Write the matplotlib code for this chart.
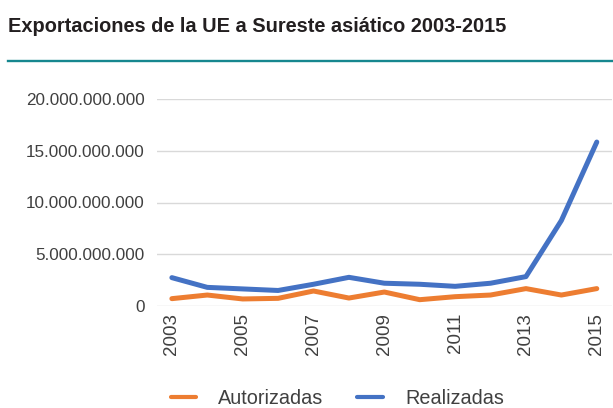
import matplotlib.pyplot as plt
from matplotlib import font_manager
from matplotlib.ticker import FuncFormatter
from matplotlib.lines import Line2D

# Datos (euros)
anios = [2003, 2004, 2005, 2006, 2007, 2008, 2009, 2010, 2011, 2012, 2013, 2014, 2015]
autorizadas = [0.71e9, 1.06e9, 0.68e9, 0.74e9, 1.45e9, 0.77e9, 1.35e9,
               0.61e9, 0.90e9, 1.06e9, 1.68e9, 1.06e9, 1.68e9]
realizadas = [2.74e9, 1.80e9, 1.65e9, 1.50e9, 2.10e9, 2.77e9, 2.20e9,
              2.10e9, 1.90e9, 2.20e9, 2.84e9, 8.26e9, 15.84e9]
ticks_y = [0, 5e9, 10e9, 15e9, 20e9]
ticks_x = [2003, 2005, 2007, 2009, 2011, 2013, 2015]
titulo = 'Exportaciones de la UE a Sureste asiático 2003-2015'

naranja = '#ED7D31'
azul = '#4472C4'
gris = '#404040'

plt.rcParams['font.family'] = ['Liberation Sans', 'DejaVu Sans']

# fuente estrecha para el título si existe
nombres = {f.name for f in font_manager.fontManager.ttflist}
if 'Liberation Sans Narrow' in nombres:
    fam_titulo = ['Liberation Sans Narrow', 'DejaVu Sans']
    ancho = 437
else:
    fam_titulo = ['Liberation Sans', 'DejaVu Sans']
    ancho = 500

fig = plt.figure(figsize=(6.13, 4.08), dpi=100)

t = fig.text(8 / 613, 1 - 27 / 408, titulo, fontsize=18, fontweight='bold',
             family=fam_titulo, color='#231f20', va='center', ha='left')
# ajustar el tamaño al ancho deseado
r = fig.canvas.get_renderer()
w = t.get_window_extent(renderer=r).width
if w > ancho:
    t.set_fontsize(18 * ancho / w)

fig.add_artist(Line2D([8 / 613, 1], [1 - 61 / 408] * 2, color='#16878f', lw=1.7))

ax = fig.add_axes([157 / 613, 1 - 306 / 408, (612 - 157) / 613, (306 - 99) / 408])
ax.plot(anios, autorizadas, color=naranja, lw=3.6, solid_capstyle='round', label='Autorizadas')
ax.plot(anios, realizadas, color=azul, lw=3.6, solid_capstyle='round', label='Realizadas')

ax.set_xlim(2002.58, 2015.43)
ax.set_ylim(0, 20e9)
ax.set_yticks(ticks_y)
ax.set_xticks(ticks_x)
ax.yaxis.set_major_formatter(FuncFormatter(lambda v, p: f'{int(v):,}'.replace(',', '.')))
ax.tick_params(axis='x', labelrotation=90, length=0, labelsize=13.5, colors=gris, pad=5)
ax.tick_params(axis='y', length=0, labelsize=12.3, colors=gris, pad=9)
ax.grid(axis='y', color='#d9d9d9', lw=1)
ax.set_axisbelow(True)
for s in ax.spines.values():
    s.set_visible(False)

leg = ax.legend(loc='center', bbox_to_anchor=(0.55, 1 - 398 / 408), bbox_transform=fig.transFigure,
                ncol=2, frameon=False, fontsize=14.3, handlelength=1.3, handletextpad=1.1,
                columnspacing=1.7, labelcolor=gris)
for l in leg.get_lines():
    l.set_linewidth(3)

fig.savefig('out.png', dpi=100)
